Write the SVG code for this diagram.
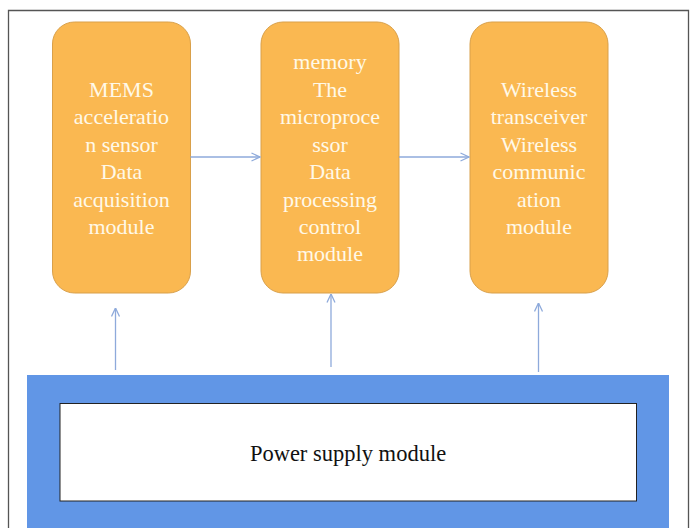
<svg xmlns="http://www.w3.org/2000/svg" width="690" height="528" viewBox="0 0 690 528">
<defs>
<style>
.box{fill:#FAB851;stroke:#D9A04A;stroke-width:1}
.lbl{font-family:"Liberation Serif","Times New Roman",serif;font-size:22px;fill:#FFF9E8;text-anchor:middle}
.conn{stroke:#8EAADB;stroke-width:1.3;fill:none}
.ptxt{font-family:"Liberation Serif","Times New Roman",serif;font-size:22.5px;fill:#111;text-anchor:middle}
</style>
<marker id="arr" viewBox="0 0 10 10" refX="9.5" refY="5" markerWidth="10" markerHeight="10" markerUnits="userSpaceOnUse" orient="auto">
<path d="M1,1 L9.5,5 L1,9" fill="none" stroke="#8EAADB" stroke-width="1.3"/>
</marker>
</defs>
<rect x="0" y="0" width="690" height="528" fill="#fff"/>
<path d="M8.5,528 V10.5 H688.5 V528" fill="none" stroke="#555" stroke-width="1.3"/>

<g id="sensor">
<rect class="box" x="52.5" y="22" width="138" height="271" rx="22"/>
<text class="lbl"><tspan x="121.5" y="96.5">MEMS</tspan><tspan x="121.5" y="124">acceleratio</tspan><tspan x="121.5" y="151.5">n sensor</tspan><tspan x="121.5" y="179">Data</tspan><tspan x="121.5" y="206.5">acquisition</tspan><tspan x="121.5" y="234">module</tspan></text>
</g>

<g id="processor">
<rect class="box" x="261" y="22" width="138" height="271" rx="22"/>
<text class="lbl"><tspan x="330" y="69">memory</tspan><tspan x="330" y="96.5">The</tspan><tspan x="330" y="124">microproce</tspan><tspan x="330" y="151.5">ssor</tspan><tspan x="330" y="179">Data</tspan><tspan x="330" y="206.5">processing</tspan><tspan x="330" y="234">control</tspan><tspan x="330" y="261">module</tspan></text>
</g>

<g id="wireless">
<rect class="box" x="470" y="22" width="138" height="271" rx="22"/>
<text class="lbl"><tspan x="539" y="96.5">Wireless</tspan><tspan x="539" y="124">transceiver</tspan><tspan x="539" y="151.5">Wireless</tspan><tspan x="539" y="179">communic</tspan><tspan x="539" y="206.5">ation</tspan><tspan x="539" y="234">module</tspan></text>
</g>

<g id="power">
<rect x="27" y="375" width="642" height="160" fill="#6196E6"/>
<rect x="60" y="403.5" width="576.5" height="97.5" fill="#fff" stroke="#222" stroke-width="1"/>
<text class="ptxt" x="348" y="460.5">Power supply module</text>
</g>

<g id="connectors">
<line class="conn" x1="190.5" y1="157" x2="260" y2="157" marker-end="url(#arr)"/>
<line class="conn" x1="399" y1="157" x2="469" y2="157" marker-end="url(#arr)"/>
<line class="conn" x1="115.5" y1="370" x2="115.5" y2="308" marker-end="url(#arr)"/>
<line class="conn" x1="331" y1="367" x2="331" y2="294" marker-end="url(#arr)"/>
<line class="conn" x1="538.5" y1="372" x2="538.5" y2="303" marker-end="url(#arr)"/>
</g>
</svg>
